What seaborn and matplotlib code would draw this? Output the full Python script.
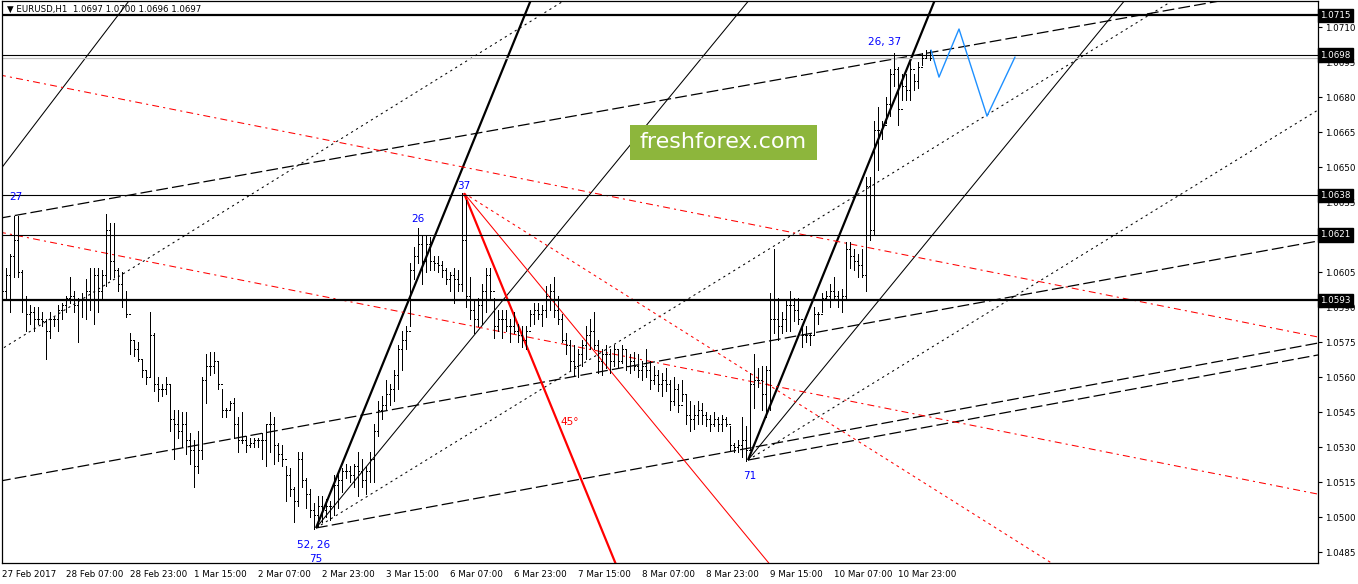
import matplotlib
matplotlib.use("Agg")
import matplotlib.pyplot as plt
import matplotlib.transforms as mtransforms
from matplotlib.patches import FancyBboxPatch
import numpy as np
import pandas as pd
import seaborn as sns

sns.set_style("white")
plt.rcParams['font.family'] = ['DejaVu Sans']
plt.rcParams['lines.scale_dashes'] = False

# EURUSD H1 bars
highs = [
    1.0600, 1.0607, 1.0613, 1.0629, 1.0629, 1.0606, 1.0595, 1.0591, 1.0590, 1.0590,
    1.0588, 1.0585, 1.0588, 1.0586, 1.0591, 1.0592, 1.0595, 1.0603, 1.0597, 1.0594,
    1.0596, 1.0602, 1.0607, 1.0607, 1.0607, 1.0606, 1.0630, 1.0626, 1.0626, 1.0607,
    1.0605, 1.0597, 1.0579, 1.0576, 1.0575, 1.0568, 1.0563, 1.0588, 1.0579, 1.0560,
    1.0557, 1.0560, 1.0557, 1.0546, 1.0546, 1.0545, 1.0545, 1.0536, 1.0533, 1.0537,
    1.0560, 1.0570, 1.0571, 1.0571, 1.0567, 1.0555, 1.0547, 1.0550, 1.0551, 1.0543,
    1.0545, 1.0535, 1.0534, 1.0534, 1.0534, 1.0536, 1.0540, 1.0545, 1.0543, 1.0532,
    1.0531, 1.0522, 1.0521, 1.0513, 1.0528, 1.0528, 1.0517, 1.0512, 1.0506, 1.0509,
    1.0509, 1.0508, 1.0507, 1.0518, 1.0520, 1.0521, 1.0523, 1.0522, 1.0523, 1.0528,
    1.0525, 1.0522, 1.0528, 1.0540, 1.0550, 1.0552, 1.0559, 1.0557, 1.0563, 1.0574,
    1.0580, 1.0582, 1.0609, 1.0616, 1.0624, 1.0621, 1.0621, 1.0620, 1.0612, 1.0612,
    1.0610, 1.0607, 1.0605, 1.0607, 1.0606, 1.0639, 1.0636, 1.0603, 1.0593, 1.0594,
    1.0600, 1.0607, 1.0607, 1.0594, 1.0589, 1.0589, 1.0589, 1.0585, 1.0588, 1.0583,
    1.0582, 1.0582, 1.0589, 1.0592, 1.0592, 1.0591, 1.0599, 1.0600, 1.0603, 1.0595,
    1.0587, 1.0579, 1.0576, 1.0574, 1.0572, 1.0576, 1.0582, 1.0585, 1.0588, 1.0576,
    1.0572, 1.0574, 1.0572, 1.0574, 1.0572, 1.0574, 1.0572, 1.0570, 1.0571, 1.0570,
    1.0567, 1.0572, 1.0567, 1.0565, 1.0563, 1.0562, 1.0564, 1.0559, 1.0560, 1.0557,
    1.0559, 1.0553, 1.0550, 1.0548, 1.0550, 1.0549, 1.0545, 1.0544, 1.0545, 1.0543,
    1.0544, 1.0543, 1.0539, 1.0532, 1.0533, 1.0543, 1.0539, 1.0562, 1.0570, 1.0564,
    1.0565, 1.0565, 1.0596, 1.0615, 1.0594, 1.0588, 1.0593, 1.0597, 1.0594, 1.0594,
    1.0582, 1.0582, 1.0579, 1.0590, 1.0588, 1.0596, 1.0597, 1.0600, 1.0603, 1.0597,
    1.0598, 1.0618, 1.0618, 1.0615, 1.0613, 1.0615, 1.0646, 1.0646, 1.0670, 1.0676,
    1.0670, 1.0680, 1.0692, 1.0699, 1.0693, 1.0690, 1.0690, 1.0695, 1.0690, 1.0695,
    1.0699, 1.0700, 1.0700,
]
lows = [
    1.0580, 1.0593, 1.0588, 1.0603, 1.0603, 1.0588, 1.0580, 1.0583, 1.0580, 1.0583,
    1.0582, 1.0568, 1.0577, 1.0582, 1.0580, 1.0585, 1.0588, 1.0592, 1.0588, 1.0575,
    1.0586, 1.0585, 1.0589, 1.0583, 1.0588, 1.0594, 1.0599, 1.0602, 1.0603, 1.0597,
    1.0590, 1.0586, 1.0570, 1.0569, 1.0567, 1.0560, 1.0557, 1.0560, 1.0554, 1.0550,
    1.0552, 1.0553, 1.0537, 1.0525, 1.0534, 1.0530, 1.0527, 1.0523, 1.0513, 1.0519,
    1.0525, 1.0549, 1.0561, 1.0562, 1.0555, 1.0543, 1.0543, 1.0546, 1.0534, 1.0528,
    1.0532, 1.0528, 1.0530, 1.0530, 1.0530, 1.0525, 1.0522, 1.0528, 1.0523, 1.0524,
    1.0522, 1.0507, 1.0509, 1.0498, 1.0505, 1.0513, 1.0504, 1.0500, 1.0495, 1.0496,
    1.0498, 1.0500, 1.0499, 1.0501, 1.0504, 1.0511, 1.0517, 1.0515, 1.0513, 1.0509,
    1.0513, 1.0510, 1.0515, 1.0515, 1.0535, 1.0542, 1.0546, 1.0548, 1.0550, 1.0555,
    1.0563, 1.0572, 1.0582, 1.0602, 1.0609, 1.0600, 1.0605, 1.0606, 1.0606, 1.0605,
    1.0603, 1.0600, 1.0597, 1.0592, 1.0597, 1.0597, 1.0590, 1.0585, 1.0579, 1.0582,
    1.0583, 1.0588, 1.0594, 1.0577, 1.0580, 1.0577, 1.0580, 1.0575, 1.0579, 1.0575,
    1.0573, 1.0572, 1.0582, 1.0583, 1.0585, 1.0582, 1.0586, 1.0589, 1.0586, 1.0583,
    1.0575, 1.0570, 1.0563, 1.0561, 1.0560, 1.0565, 1.0568, 1.0572, 1.0572, 1.0562,
    1.0561, 1.0564, 1.0562, 1.0565, 1.0564, 1.0566, 1.0563, 1.0562, 1.0563, 1.0560,
    1.0559, 1.0560, 1.0555, 1.0557, 1.0554, 1.0552, 1.0554, 1.0546, 1.0548, 1.0545,
    1.0550, 1.0540, 1.0537, 1.0538, 1.0540, 1.0540, 1.0539, 1.0537, 1.0539, 1.0537,
    1.0537, 1.0539, 1.0529, 1.0528, 1.0528, 1.0526, 1.0524, 1.0529, 1.0547, 1.0556,
    1.0546, 1.0543, 1.0546, 1.0579, 1.0576, 1.0579, 1.0580, 1.0580, 1.0584, 1.0583,
    1.0573, 1.0575, 1.0574, 1.0578, 1.0583, 1.0588, 1.0593, 1.0590, 1.0594, 1.0590,
    1.0588, 1.0593, 1.0607, 1.0606, 1.0603, 1.0603, 1.0597, 1.0619, 1.0621, 1.0649,
    1.0662, 1.0669, 1.0672, 1.0685, 1.0668, 1.0679, 1.0679, 1.0679, 1.0683, 1.0684,
    1.0694, 1.0697, 1.0696,
]
closes = [
    1.0597, 1.0604, 1.0612, 1.0619, 1.0605, 1.0593, 1.0587, 1.0588, 1.0585, 1.0585,
    1.0584, 1.0580, 1.0585, 1.0585, 1.0589, 1.0591, 1.0594, 1.0595, 1.0591, 1.0593,
    1.0593, 1.0597, 1.0593, 1.0604, 1.0597, 1.0604, 1.0623, 1.0610, 1.0606, 1.0600,
    1.0593, 1.0587, 1.0576, 1.0572, 1.0568, 1.0563, 1.0560, 1.0578, 1.0557, 1.0555,
    1.0555, 1.0557, 1.0542, 1.0540, 1.0537, 1.0540, 1.0533, 1.0529, 1.0522, 1.0529,
    1.0559, 1.0565, 1.0565, 1.0567, 1.0557, 1.0546, 1.0546, 1.0549, 1.0540, 1.0533,
    1.0533, 1.0531, 1.0532, 1.0533, 1.0533, 1.0533, 1.0540, 1.0540, 1.0531, 1.0527,
    1.0525, 1.0518, 1.0512, 1.0507, 1.0525, 1.0516, 1.0510, 1.0503, 1.0501, 1.0505,
    1.0503, 1.0505, 1.0505, 1.0514, 1.0516, 1.0520, 1.0520, 1.0518, 1.0522, 1.0520,
    1.0516, 1.0520, 1.0525, 1.0537, 1.0546, 1.0548, 1.0553, 1.0555, 1.0561, 1.0572,
    1.0576, 1.0580, 1.0606, 1.0612, 1.0617, 1.0610, 1.0617, 1.0610, 1.0609, 1.0608,
    1.0606, 1.0602, 1.0604, 1.0602, 1.0600, 1.0619, 1.0595, 1.0589, 1.0585, 1.0591,
    1.0597, 1.0604, 1.0597, 1.0582, 1.0585, 1.0585, 1.0582, 1.0582, 1.0580, 1.0578,
    1.0576, 1.0580, 1.0587, 1.0589, 1.0587, 1.0589, 1.0595, 1.0597, 1.0589, 1.0585,
    1.0576, 1.0574, 1.0567, 1.0565, 1.0570, 1.0574, 1.0578, 1.0580, 1.0574, 1.0567,
    1.0570, 1.0570, 1.0567, 1.0572, 1.0567, 1.0572, 1.0565, 1.0567, 1.0565, 1.0563,
    1.0565, 1.0563, 1.0559, 1.0561, 1.0557, 1.0559, 1.0557, 1.0550, 1.0555, 1.0548,
    1.0553, 1.0544, 1.0542, 1.0544, 1.0546, 1.0544, 1.0542, 1.0540, 1.0542, 1.0540,
    1.0542, 1.0540, 1.0531, 1.0530, 1.0531, 1.0533, 1.0529, 1.0557, 1.0559, 1.0559,
    1.0553, 1.0563, 1.0585, 1.0585, 1.0582, 1.0585, 1.0591, 1.0591, 1.0589, 1.0585,
    1.0578, 1.0578, 1.0578, 1.0587, 1.0587, 1.0594, 1.0595, 1.0597, 1.0595, 1.0593,
    1.0595, 1.0615, 1.0612, 1.0610, 1.0608, 1.0604, 1.0642, 1.0623, 1.0666, 1.0666,
    1.0668, 1.0677, 1.0690, 1.0692, 1.0675, 1.0685, 1.0683, 1.0692, 1.0687, 1.0693,
    1.0697, 1.0698, 1.0697,
]
first_open = 1.0590
opens = [first_open] + closes[:-1]

time_labels = ["27 Feb 2017", "28 Feb 07:00", "28 Feb 23:00", "1 Mar 15:00", "2 Mar 07:00",
               "2 Mar 23:00", "3 Mar 15:00", "6 Mar 07:00", "6 Mar 23:00", "7 Mar 15:00",
               "8 Mar 07:00", "8 Mar 23:00", "9 Mar 15:00", "10 Mar 07:00", "10 Mar 23:00"]
label_every = 16

# horizontal levels
level_prices = [1.0715, 1.0698, 1.0638, 1.0621, 1.0593]
level_bold = [True, False, False, False, True]
bid_price = 1.0697

# trend lines: start (bar, price) and a second point on the line
trend_b1 = [78.5, 78.5, 78.5, 78.5, 186.5, 186.5, 186.5, 186.5, -0.5, -0.5, -0.5, -0.5,
            115.5, 115.5, 115.5, -0.5, -0.5]
trend_p1 = [1.04955, 1.04955, 1.04955, 1.04955, 1.05246, 1.05246, 1.05246, 1.05246,
            1.06282, 1.05156, 1.05717, 1.06488, 1.06389, 1.06389, 1.06389, 1.06895, 1.06222]
trend_b2 = [132.0, 186.5, 329.0, 329.0, 233.0, 280.75, 329.0, 329.0, 329.0, 329.0, 140.75, 31.5,
            153.25, 191.5, 262.0, 329.0, 329.0]
trend_p2 = [1.07207, 1.07210, 1.07597, 1.05747, 1.07207, 1.07216, 1.06745, 1.05696,
            1.07287, 1.06184, 1.07216, 1.07207, 1.04809, 1.04809, 1.04809, 1.05773, 1.05100]
trend_style = ["thick", "thin", "dot", "dash", "thick", "thin", "dot", "dash",
               "dash", "dash", "dot", "thin", "rthick", "rthin", "rdot", "rdash", "rdash"]

# forecast path (blue)
fc_bars = [232.25, 234.25, 239.25, 246.25, 253.25]
fc_prices = [1.07002, 1.06886, 1.07092, 1.06719, 1.06972]

# wave labels
wave_text = ["27", "26", "37", "52, 26", "75", "71", "26, 37"]
wave_bars = [3.5, 104.0, 115.5, 78.0, 78.5, 187.0, 220.75]
wave_prices = [1.06372, 1.06278, 1.06419, 1.04882, 1.04822, 1.05177, 1.07036]

W, H = 1358, 584
fig = plt.figure(figsize=(W / 100, H / 100), dpi=100)
fig.patch.set_facecolor("white")
ax = fig.add_axes([1.5 / W, 21 / H, 1316.5 / W, 562 / H])
ax.set_facecolor("white")
ax.set_xlim(-0.125, 329)
ax.set_ylim(1.04805, 1.07212)

styles = {
    "thick": dict(color="black", lw=1.6, ls="-"),
    "thin": dict(color="black", lw=0.75, ls="-"),
    "dot": dict(color="black", lw=0.75, dashes=(1.6, 2.6)),
    "dash": dict(color="black", lw=0.9, dashes=(8.5, 3.0)),
    "rthick": dict(color="#FF0000", lw=1.6, ls="-"),
    "rthin": dict(color="#FF0000", lw=0.75, ls="-"),
    "rdot": dict(color="#FF0000", lw=0.75, dashes=(2.0, 2.6)),
    "rdash": dict(color="#FF0000", lw=0.75, dashes=(5.0, 3.0, 1.5, 3.0)),
}

# trend lines drawn first
for b1, p1, b2, p2, st in zip(trend_b1, trend_p1, trend_b2, trend_p2, trend_style):
    t0 = -1.0 if b1 < 0 else 0.0
    xs = [b1 + t0 * (b2 - b1), b1 + 4.0 * (b2 - b1)]
    ys = [p1 + t0 * (p2 - p1), p1 + 4.0 * (p2 - p1)]
    ax.plot(xs, ys, solid_capstyle="butt", **styles[st])

# horizontal levels
ax.axhline(bid_price, color="#C0C0C0", lw=0.9)
for lp, bold in zip(level_prices, level_bold):
    ax.axhline(lp, color="black", lw=1.6 if bold else 0.8)

# OHLC bars
bars = pd.DataFrame({"open": opens, "high": highs, "low": lows, "close": closes})
bars["bar"] = np.arange(len(bars))
ax.vlines(bars["bar"], bars["low"], bars["high"], color="black", lw=0.72, antialiased=False)
ax.hlines(bars["open"], bars["bar"] - 0.25, bars["bar"], color="black", lw=0.72, antialiased=False)
ax.hlines(bars["close"], bars["bar"], bars["bar"] + 0.25, color="black", lw=0.72, antialiased=False)

# forecast
fc = pd.DataFrame({"bar": fc_bars, "price": fc_prices})
sns.lineplot(data=fc, x="bar", y="price", color="#1E90FF", lw=1.0, sort=False,
             estimator=None, ax=ax)

for txt, b, p in zip(wave_text, wave_bars, wave_prices):
    ax.text(b, p, txt, color="#0000FF", fontsize=7.5, ha="center", va="center")
ax.text(142, 1.05409, "45°", color="#FF0000", fontsize=7.5, ha="center", va="center")

# axes cosmetics
for sp in ax.spines.values():
    sp.set_color("black")
    sp.set_linewidth(0.9)
ax.set_xlabel("")
ax.set_ylabel("")
tick_pos = list(range(0, label_every * len(time_labels), label_every))
ax.set_xticks(tick_pos)
ax.set_xticklabels(time_labels, ha="left", fontsize=6.3)
for lab in ax.get_xticklabels():
    lab.set_transform(lab.get_transform() + mtransforms.ScaledTranslation(2 / 100, 0, fig.dpi_scale_trans))
ax.tick_params(axis="x", direction="out", length=4, width=0.8, pad=1, colors="black")

ax.yaxis.tick_right()
yt = np.round(np.arange(1.0485, 1.0711, 0.0015), 4)
ax.set_yticks(yt)
# the 1.0620 label sits fully under the 1.0621 level box
ax.set_yticklabels(["" if abs(v - 1.0620) < 1e-6 else f"{v:.4f}" for v in yt], fontsize=6.3)
ax.tick_params(axis="y", direction="out", length=3, width=0.8, pad=2, colors="black")

# highlighted level labels on the price scale
trans = mtransforms.blended_transform_factory(ax.transAxes, ax.transData)
for lp in level_prices:
    ax.text(1.0016, lp, f"{lp:.4f}", transform=trans, fontsize=6.3, color="white",
            ha="left", va="center", clip_on=False, zorder=5,
            bbox=dict(boxstyle="square,pad=0.25", fc="black", ec="black"))

# title
ax.text(0.004, 0.985, "\u25BC EURUSD,H1  1.0697 1.0700 1.0696 1.0697", transform=ax.transAxes,
        fontsize=6.2, color="black", ha="left", va="center")

# watermark
wm = FancyBboxPatch((630 / W, (H - 160) / H), 187 / W, 35 / H, boxstyle="square,pad=0",
                    transform=fig.transFigure, fc="#8DB63C", ec="none", zorder=10)
fig.patches.append(wm)
fig.text(723.5 / W, (H - 142.5) / H, "freshforex.com", color="white", fontsize=16,
         ha="center", va="center", zorder=11)

fig.savefig("out.png", dpi=100, facecolor="white")
